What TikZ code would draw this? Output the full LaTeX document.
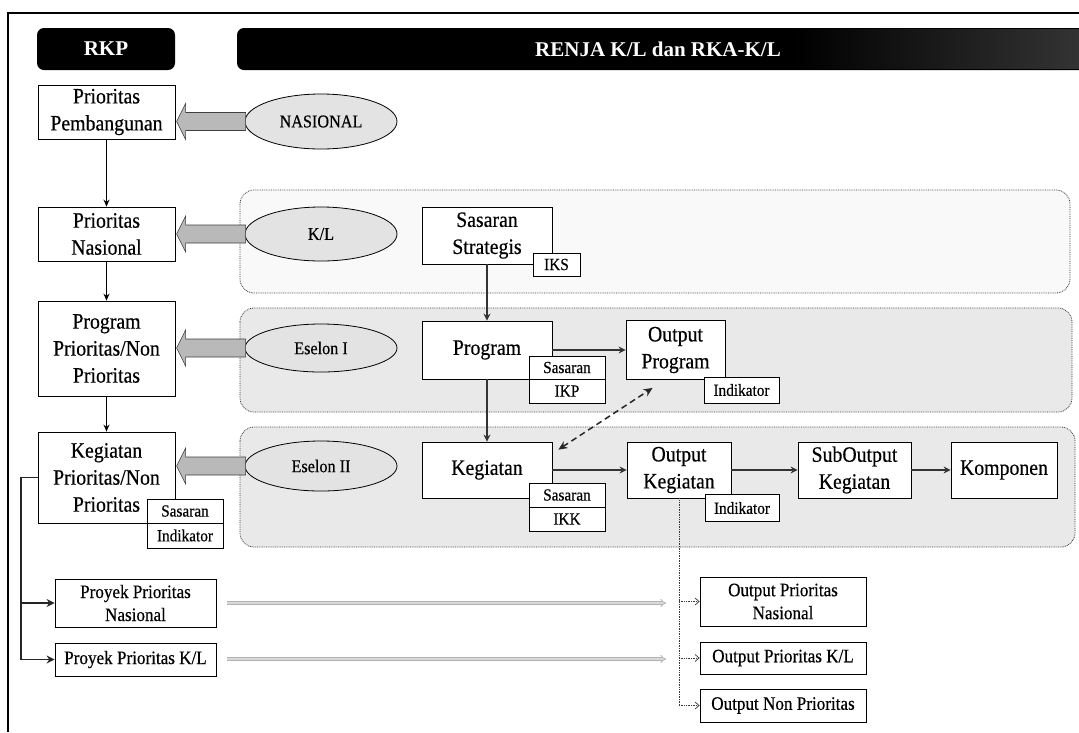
\documentclass[tikz,border=0pt]{standalone}
\usepackage{fontspec}
\setmainfont[FakeStretch=0.9,FakeBold=0.4]{Liberation Serif}
\newfontfamily\hdfont{Liberation Serif}
\usetikzlibrary{arrows.meta,shapes.geometric,calc}
\begin{document}
\begin{tikzpicture}[x=1pt,y=-1pt,
  mainbox/.style={draw=black, line width=0.8pt, fill=white, align=center, inner sep=1pt, font=\fontsize{22}{27}\selectfont},
  tagbox/.style={draw=black, line width=0.8pt, fill=white, align=center, inner sep=0pt, font=\fontsize{17}{19}\selectfont},
  listbox/.style={draw=black, line width=0.8pt, fill=white, align=center, inner sep=0pt, font=\fontsize{19}{23}\selectfont},
  oval/.style={ellipse, draw=black, line width=0.8pt, fill=gray!22, inner sep=0pt, font=\fontsize{18}{20}\selectfont},
  region/.style={draw=gray!40!black, densely dotted, line width=0.8pt, rounded corners=14pt},
  blockarrow/.style={fill=gray!55, draw=gray!50!black, line width=0.6pt},
  flow/.style={draw=gray!40!black, line width=2pt, -{Stealth[length=7pt,width=7pt]}},
  chain/.style={draw=black, line width=1.5pt, -{Stealth[length=7pt,width=6pt]}},
  bracket/.style={draw=black!85, line width=1.8pt},
  bracketarrow/.style={bracket, -{Stealth[length=8pt,width=8pt]}},
  grayarrow/.style={draw=gray!60, double=gray!30, line width=0.9pt, double distance=1.8pt, -{Implies}},
  dotline/.style={draw=gray!45!black, densely dotted, line width=0.7pt},
  dotarrow/.style={dotline, -{Straight Barb[length=4pt,width=7pt]}},
  dasharrow/.style={draw=gray!30!black, dash pattern=on 6pt off 4pt, line width=1.5pt, {Stealth[length=9pt,width=8pt]}-{Stealth[length=9pt,width=8pt]}},
  hdtext/.style={text=white, font=\hdfont\bfseries\fontsize{21}{24}\selectfont, inner sep=0pt}
]
\useasboundingbox (0,0) rectangle (1079,732);
\fill[white] (0,0) rectangle (1079,732);
% frame
\draw[line width=1.4pt] (1079,13) -- (8,13) -- (8,732);
% headers
\fill[black, rounded corners=7pt] (37,28) rectangle (175,70);
\node[hdtext] (rkp) at (106,49) {RKP};
\fill[black, rounded corners=7pt] (237,28) rectangle (1095,70);
\shade[left color=black, right color=gray!40!black] (795,29.5) rectangle (1079,68.5);
\node[hdtext] (renja) at (658,49) {RENJA K/L dan RKA-K/L};
% regions
\filldraw[region, fill=gray!5] (240,190) rectangle (1070,293);
\filldraw[region, fill=gray!17] (240,308) rectangle (1072,412);
\filldraw[region, fill=gray!17] (240,427) rectangle (1075,547);

% left column
\node[mainbox, minimum width=137pt, minimum height=54pt] (pp) at (106.5,112) {Prioritas\\Pembangunan};
\node[mainbox, minimum width=137pt, minimum height=54pt] (pn) at (106.5,234) {Prioritas\\Nasional};
\node[mainbox, minimum width=137pt, minimum height=95pt] (pg) at (106.5,348.5) {Program\\Prioritas/Non\\Prioritas};
\node[mainbox, minimum width=137pt, minimum height=91pt] (kg) at (106.5,477.5) {Kegiatan\\Prioritas/Non\\Prioritas};
\node[tagbox, minimum width=76pt, minimum height=24pt] (kgs) at (185,511) {Sasaran};
\node[tagbox, minimum width=76pt, minimum height=25pt] (kgi) at (185,535.5) {Indikator};

% ellipses
\node[oval, minimum width=152pt, minimum height=55pt] (nas) at (321,121.5) {NASIONAL};
\node[oval, minimum width=152pt, minimum height=54pt] (kl) at (321,234) {K/L};
\node[oval, minimum width=152pt, minimum height=48pt] (e1) at (321,348) {Eselon I};
\node[oval, minimum width=152pt, minimum height=50pt] (e2) at (321,466) {Eselon II};

% block arrows
\foreach \e in {nas,kl,e1,e2}{
  \draw[blockarrow] (\e.west) ++(1,-9) -- ++(-60,0) -- ++(0,-9) -- ++(-9,18) -- ++(9,18) -- ++(0,-9) -- ++(60,0) -- cycle;
}

% middle boxes
\node[mainbox, minimum width=130pt, minimum height=57pt] (ss) at (487,235.5) {Sasaran\\Strategis};
\node[tagbox, minimum width=47pt, minimum height=23pt] (iks) at (556.5,264.5) {IKS};
\node[mainbox, minimum width=130pt, minimum height=58pt] (prog) at (487,350) {Program};
\node[tagbox, minimum width=76pt, minimum height=23pt] (progs) at (567,367.5) {Sasaran};
\node[tagbox, minimum width=76pt, minimum height=24pt] (ikp) at (567,391) {IKP};
\node[mainbox, minimum width=99pt, minimum height=59pt] (op) at (675.5,350) {Output\\Program};
\node[tagbox, minimum width=75pt, minimum height=26pt] (opi) at (741.5,390) {Indikator};
\node[mainbox, minimum width=130pt, minimum height=56pt] (keg) at (487,470) {Kegiatan};
\node[tagbox, minimum width=76pt, minimum height=24pt] (kegs) at (567,495) {Sasaran};
\node[tagbox, minimum width=76pt, minimum height=24pt] (ikk) at (567,519) {IKK};
\node[mainbox, minimum width=104pt, minimum height=56pt] (ok) at (679,470) {Output\\Kegiatan};
\node[tagbox, minimum width=74pt, minimum height=27pt] (oki) at (742,508) {Indikator};
\node[mainbox, minimum width=113pt, minimum height=56pt] (so) at (854.5,470) {SubOutput\\Kegiatan};
\node[mainbox, minimum width=106pt, minimum height=56pt] (komp) at (1004,470) {Komponen};

% bottom boxes
\node[listbox, minimum width=161pt, minimum height=48pt] (ppn) at (135.5,603) {Proyek Prioritas\\Nasional};
\node[listbox, minimum width=161pt, minimum height=33pt] (pkl) at (135.5,659.5) {Proyek Prioritas K/L};
\node[listbox, minimum width=166pt, minimum height=49pt] (opn) at (783,601.5) {Output Prioritas\\Nasional};
\node[listbox, minimum width=166pt, minimum height=32pt] (opk) at (783,658) {Output Prioritas K/L};
\node[listbox, minimum width=166pt, minimum height=33pt] (onp) at (783,705.5) {Output Non Prioritas};

% left chain
\draw[chain] (pp) -- (pn);
\draw[chain] (pn) -- (pg);
\draw[chain] (pg) -- (kg);

% flows
\draw[flow] (ss) -- (prog);
\draw[flow] (prog) -- (keg);
\draw[flow] (prog) -- (op);
\draw[flow] (keg) -- (ok);
\draw[flow] (ok) -- (so);
\draw[flow] (so) -- (komp);
\draw[dasharrow] ($(keg.north east)+(6,8)$) -- ($(op.south west)+(27,8)$);

% bracket
\coordinate (bt) at (21,477.5);
\draw[bracket] (kg.west) -- (bt) -- (bt |- pkl.west);
\draw[bracketarrow] (bt |- pkl.west) -- (pkl.west);
\draw[bracketarrow] (bt |- ppn.west) -- (ppn.west);

% gray arrows
\coordinate (ga0) at (227,603);
\coordinate (ga1) at (666,603);
\coordinate (gb0) at (227,659);
\coordinate (gb1) at (666,659);
\draw[grayarrow] (ga0) -- (ga1);
\draw[grayarrow] (gb0) -- (gb1);

% dotted output branches
\draw[dotline] (ok.south) -- (ok.south |- onp.west);
\draw[dotarrow] (ok.south |- onp.west) -- (onp.west);
\draw[dotarrow] (ok.south |- opn.west) -- (opn.west);
\draw[dotarrow] (ok.south |- opk.west) -- (opk.west);
\end{tikzpicture}
\end{document}
